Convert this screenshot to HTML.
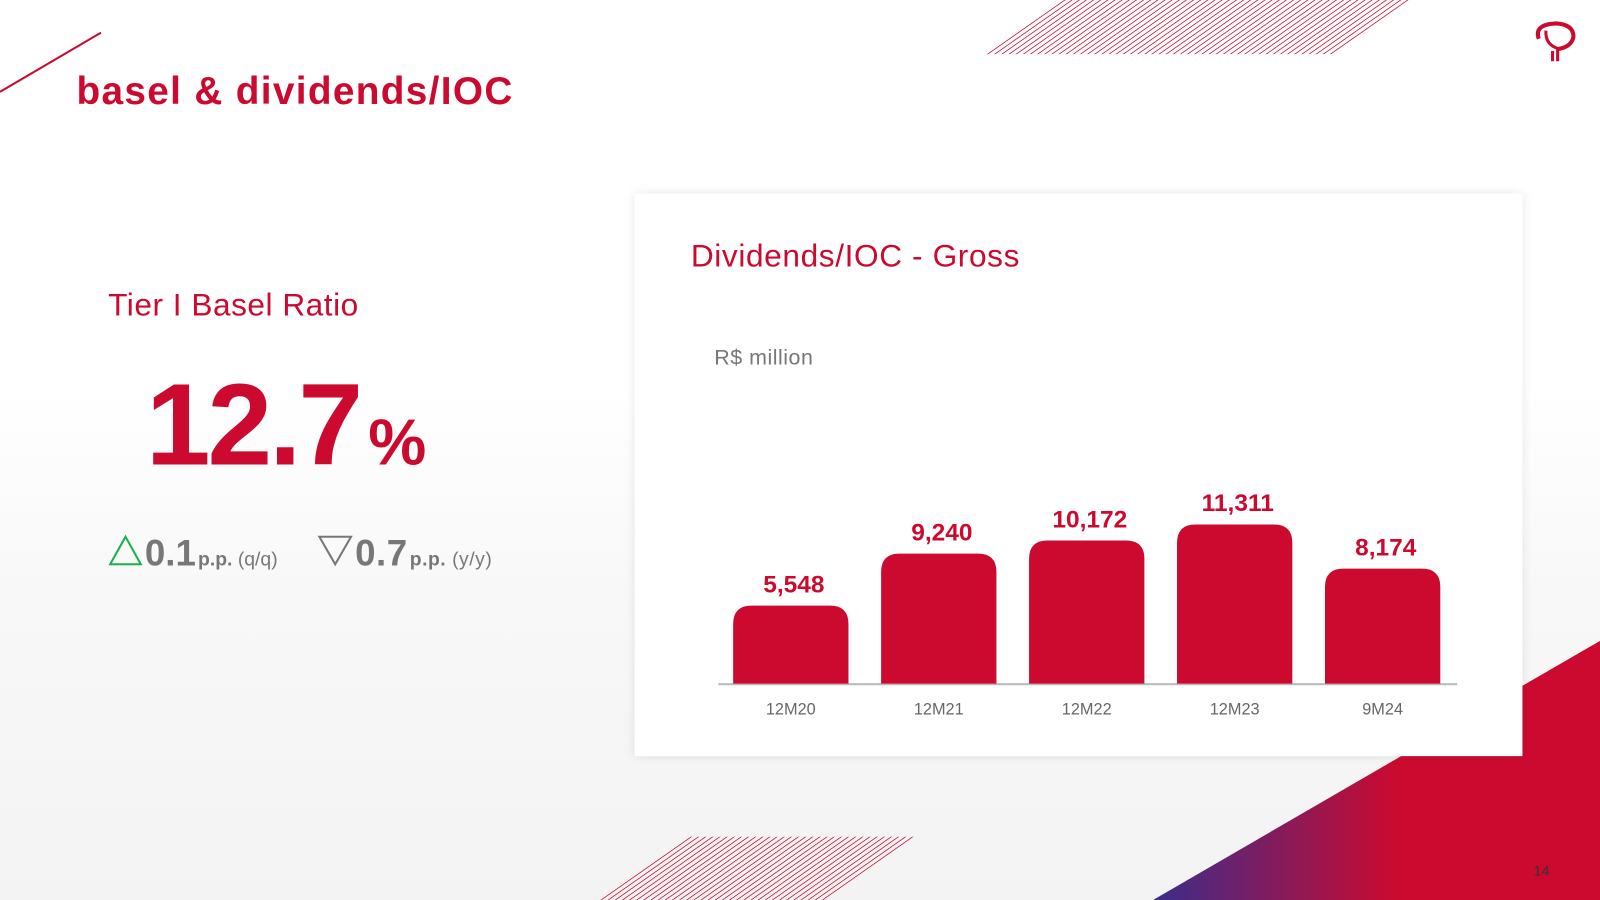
<!DOCTYPE html>
<html><head><meta charset="utf-8"><style>
html,body{margin:0;padding:0;width:1600px;height:900px;overflow:hidden;background:#fff}
svg{display:block;font-family:"Liberation Sans",sans-serif}
</style></head><body>
<svg id="s" width="1600" height="900" viewBox="0 0 1568 882" xmlns="http://www.w3.org/2000/svg">
<defs>
<linearGradient id="g" x1="0" y1="0" x2="1" y2="0"><stop offset="0" stop-color="#3b2d8a"/><stop offset="0.55" stop-color="#cc0a2f"/><stop offset="1" stop-color="#cc0a2f"/></linearGradient>
<linearGradient id="bg" x1="0" y1="0" x2="0" y2="1"><stop offset="0" stop-color="#f5f5f5" stop-opacity="0"/><stop offset="0.4" stop-color="#f5f5f5" stop-opacity="0.7"/><stop offset="1" stop-color="#f3f3f3" stop-opacity="1"/></linearGradient>
<pattern id="h" width="7" height="60" patternUnits="userSpaceOnUse" patternTransform="skewX(-55)"><rect width="1.3" height="60" fill="#cc0a2f"/></pattern>
<filter id="sh" x="-5%" y="-5%" width="110%" height="110%"><feDropShadow dx="0" dy="0" stdDeviation="5" flood-color="#000" flood-opacity="0.1"/></filter>
</defs>
<rect width="1568" height="882" fill="#fff"/>
<rect x="0" y="380" width="1568" height="502" fill="url(#bg)"/>
<line x1="0" y1="90" x2="99" y2="32" stroke="#cc0a2f" stroke-width="2"/>
<polygon points="963,53 1040,0 1385,0 1308,53" fill="url(#h)"/>
<polygon points="583,882 673,820 897,820 807,882" fill="url(#h)"/>
<polygon points="1130,882 1568,628 1568,882" fill="url(#g)"/>
<g fill="none" stroke="#cc0a2f" stroke-width="4">
<path d="M1508,38 Q1503,24 1525,23 Q1542,24 1542,36 Q1540,46 1527,48"/>
<path d="M1515,30 Q1514,44 1528,48" stroke-width="3"/>
<rect x="1520" y="50" width="3" height="10" fill="#cc0a2f" stroke="none"/>
<rect x="1525" y="47" width="3" height="13" fill="#cc0a2f" stroke="none"/>
</g>
<text x="75" y="102" font-size="38" font-weight="bold" fill="#cc0a2f" letter-spacing="1.3">basel &amp; dividends/IOC</text>
<text x="106" y="309" font-size="31" fill="#cc0a2f" letter-spacing="0.5">Tier I Basel Ratio</text>
<text x="143" y="455" font-size="114" font-weight="bold" fill="#cc0a2f" letter-spacing="-3">12.7<tspan font-size="64" dx="8">%</tspan></text>
<g>
<polygon points="108,553 123,526 138,553" fill="none" stroke="#19b24a" stroke-width="2"/>
<text x="142" y="554" font-size="36" font-weight="bold" fill="#777">0.1<tspan font-size="19" dx="2">p.p. </tspan><tspan font-size="19" font-weight="normal">(q/q)</tspan></text>
</g>
<g>
<polygon points="313,526 344,526 328.5,553" fill="none" stroke="#777" stroke-width="2"/>
<text x="348" y="554" font-size="36" font-weight="bold" fill="#777" letter-spacing="0.5">0.7<tspan font-size="19" dx="2">p.p. </tspan><tspan font-size="19" font-weight="normal">(y/y)</tspan></text>
</g>
<rect x="622" y="190" width="870" height="551" fill="#fff" filter="url(#sh)"/>
<text x="677" y="261" font-size="31" fill="#cc0a2f" letter-spacing="0.6">Dividends/IOC - Gross</text>
<text x="700" y="357" font-size="21" fill="#777" letter-spacing="0.5">R$ million</text>
<g id="chart"></g>
<text x="1503" y="858" font-size="14" fill="#333">14</text>
</svg>
<script>
const categories=["12M20","12M21","12M22","12M23","9M24"];
const values=[5548,9240,10172,11311,8174];
const valueLabels=["5,548","9,240","10,172","11,311","8,174"];
const NS="http://www.w3.org/2000/svg";
const g=document.getElementById("chart");
const base=670, pxPerUnit=156/11311, x0=775, step=145, bw=113, r=18;
const xScale=i=>x0+i*step;
const yScale=v=>base-v*pxPerUnit;
function mk(t,a){const e=document.createElementNS(NS,t);for(const k in a)e.setAttribute(k,a[k]);g.appendChild(e);return e;}
const ax=mk("line",{x1:704,y1:base+0.5,x2:1428,y2:base+0.5,stroke:"#bbb","stroke-width":2});


categories.forEach((c,i)=>{
  const cx=xScale(i), top=yScale(values[i]), l=cx-bw/2, rr=cx+bw/2;
  const p=mk("path",{d:`M${l},${base} L${l},${top+r} Q${l},${top} ${l+r},${top} L${rr-r},${top} Q${rr},${top} ${rr},${top+r} L${rr},${base} Z`,fill:"#cc0a2f"});
  
  
  const t=mk("text",{x:cx+3,y:top-13,"text-anchor":"middle","font-size":24,"font-weight":"bold",fill:"#cc0a2f"});
  t.textContent=valueLabels[i];
  
  
  const x=mk("text",{x:cx,y:700,"text-anchor":"middle","font-size":16,fill:"#666"});
  x.textContent=c;
  
  
});
</script>
</body></html>
